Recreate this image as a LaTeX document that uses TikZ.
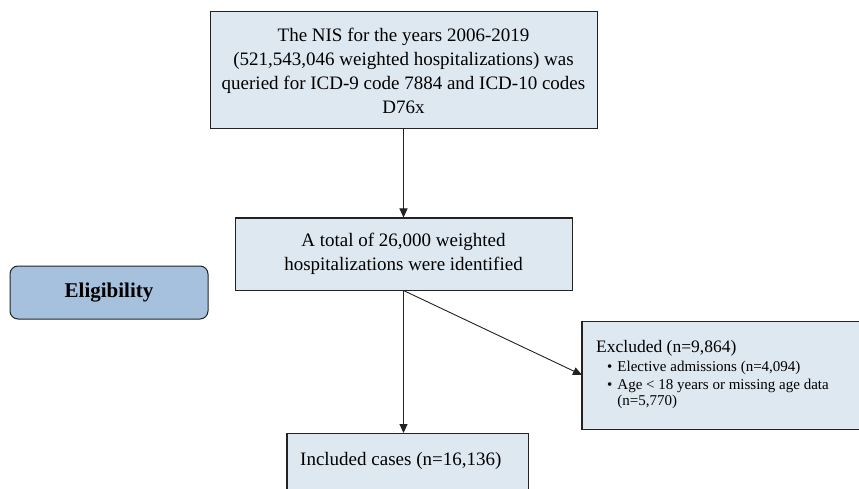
\documentclass[tikz,border=0pt]{standalone}
\usepackage{fontspec}
\setmainfont{Liberation Serif}
\usetikzlibrary{arrows.meta}
\definecolor{boxfill}{HTML}{DEE8F1}
\definecolor{eligfill}{HTML}{A5C1DD}
\definecolor{edge}{HTML}{222222}
\begin{document}
\begin{tikzpicture}[x=1pt,y=-1pt,
  box/.style={draw=edge, line width=1pt, fill=boxfill, inner sep=0pt},
  arr/.style={draw=edge, line width=0.9pt, -{Triangle[length=9pt,width=8pt]}}]
\useasboundingbox (0,0) rectangle (859,489);
\clip (0,0) rectangle (859,489);
\node[box, minimum width=387pt, minimum height=117pt, align=center,
  font=\fontsize{19}{24}\selectfont] (top) at (403.5,70.5)
  {The NIS for the years 2006-2019\\(521,543,046 weighted hospitalizations) was\\queried for ICD-9 code 7884 and ICD-10 codes\\D76x};
\node[box, minimum width=337pt, minimum height=72pt, align=center,
  font=\fontsize{19}{24}\selectfont] (mid) at (403.5,254)
  {A total of 26,000 weighted\\hospitalizations were identified};
\node[draw=edge, line width=1pt, fill=eligfill, rounded corners=8pt, minimum width=198pt, minimum height=53pt,
  font=\fontsize{21}{24}\selectfont\bfseries] (elig) at (109,292.5) {Eligibility};
\node[box, anchor=west, minimum width=300pt, minimum height=108pt] (excl) at (582,375) {};
\draw[edge, line width=2pt] (excl.north west) -- (excl.south west);
\node[anchor=base west, inner sep=0pt, font=\fontsize{17.5}{20}\selectfont] (exclt) at (596,352)
  {Excluded (n=9,864)};
\node[anchor=north west, inner sep=0pt, align=left, font=\fontsize{15}{16}\selectfont] (exclb) at (607,361)
  {\textbullet\hspace{5pt}Elective admissions (n=4,094)\\[1.5pt]
   \textbullet\hspace{5pt}Age < 18 years or missing age data\\[0.5pt]
   \hphantom{\textbullet\hspace{5pt}}(n=5,770)};
\node[box, anchor=north west, minimum width=241pt, minimum height=70pt] (incl) at (287,433) {};
\draw[edge, line width=2pt] (incl.north west) -- (incl.south west);
\node[anchor=base west, inner sep=0pt, font=\fontsize{19}{20}\selectfont] (inclt) at (300,465) {Included cases (n=16,136)};
\draw[arr] (top.south) -- (mid.north);
\draw[arr] (mid.south) -- (mid.south |- incl.north);
\draw[arr] (mid.south) -- (excl.west);
\end{tikzpicture}
\end{document}
